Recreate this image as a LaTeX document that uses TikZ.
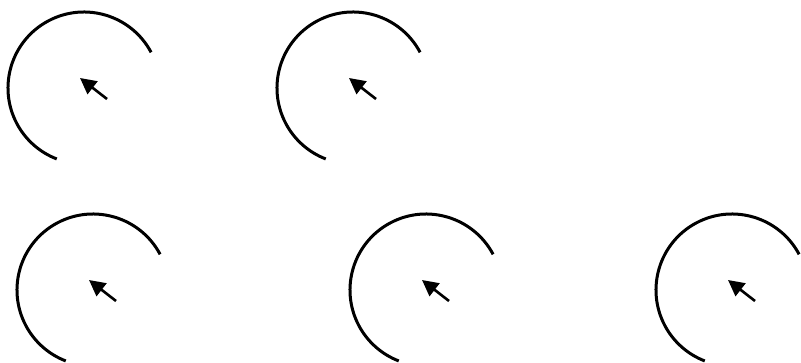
\documentclass[tikz,border=0pt]{standalone}
\usetikzlibrary{arrows.meta,calc}
\begin{document}
\begin{tikzpicture}[x=1pt,y=1pt,
  ring/.style={line width=3pt},
  pointer/.style={line width=2.6pt,-{Triangle[length=16pt,width=16pt]}}]
\useasboundingbox (0,0) rectangle (801,362);
\coordinate (c1) at (84,274);
\coordinate (c2) at (353,274);
\coordinate (c3) at (93,72);
\coordinate (c4) at (426,72);
\coordinate (c5) at (732,72);
\foreach \i in {1,...,5}{
  \draw[ring] ($(c\i)+(28:76)$) arc[start angle=28, end angle=249, radius=76];
  \coordinate (t\i) at ($(c\i)+(23,-11)$);
  \coordinate (h\i) at ($(c\i)+(-4,10)$);
  \draw[pointer] (t\i) -- (h\i);
}
\end{tikzpicture}
\end{document}
